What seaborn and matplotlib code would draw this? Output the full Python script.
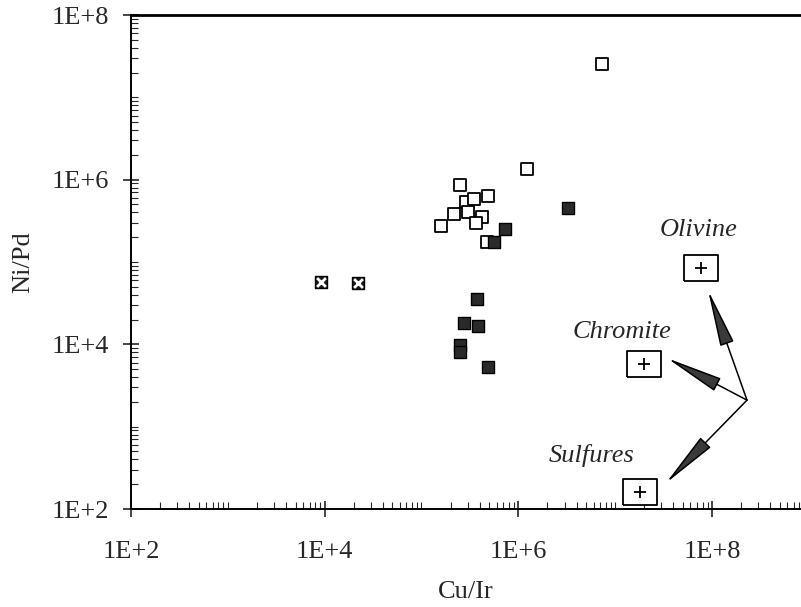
import numpy as np
import pandas as pd
import matplotlib
matplotlib.use("Agg")
import matplotlib.pyplot as plt
import seaborn as sns
from matplotlib.ticker import FixedLocator, LogLocator, FuncFormatter, NullFormatter

# open squares
open_cu_ir = [7.31e6, 1.23e6, 2.50e5, 2.88e5, 3.49e5, 4.86e5, 2.17e5, 3.02e5, 4.22e5, 3.66e5, 1.59e5, 4.75e5]
open_ni_pd = [2.54e7, 1.35e6, 8.6e5, 5.35e5, 5.8e5, 6.3e5, 3.8e5, 4.0e5, 3.5e5, 2.97e5, 2.73e5, 1.75e5]
# filled squares
filled_cu_ir = [3.26e6, 7.28e5, 5.61e5, 3.74e5, 2.75e5, 3.83e5, 2.50e5, 2.50e5, 4.86e5]
filled_ni_pd = [4.5e5, 2.5e5, 1.75e5, 3.54e4, 1.8e4, 1.66e4, 9.8e3, 8.0e3, 5.3e3]
# crossed squares
cross_cu_ir = [9.16e3, 2.21e4]
cross_ni_pd = [5.7e4, 5.5e4]

# reference minerals
minerals = ["Olivine", "Chromite", "Sulfures"]
mineral_cu_ir = [7.7e7, 1.99e7, 1.81e7]
mineral_ni_pd = [8.4e4, 5.7e3, 160]
label_cu_ir = [7.35e7, 1.18e7, 5.77e6]
label_ni_pd = [2.44e5, 1.41e4, 451]
tip_cu_ir = [9.1e7, 3.43e7, 3.34e7]
tip_ni_pd = [4.56e4, 6.8e3, 206]
arrow_origin = (2.30e8, 2.1e3)

tick_values = [1e2, 1e4, 1e6, 1e8]

sns.set_style("white")
plt.rcParams['font.family'] = ['Liberation Serif', 'DejaVu Serif']
FS = 19

fig = plt.figure(figsize=(8.01, 6.07), dpi=100)
ax = fig.add_axes([131 / 801, 1 - 509 / 607, 670 / 801, 494 / 607])

df_open = pd.DataFrame({'Cu/Ir': open_cu_ir, 'Ni/Pd': open_ni_pd})
df_filled = pd.DataFrame({'Cu/Ir': filled_cu_ir, 'Ni/Pd': filled_ni_pd})
df_cross = pd.DataFrame({'Cu/Ir': cross_cu_ir, 'Ni/Pd': cross_ni_pd})
df_min = pd.DataFrame({'Cu/Ir': mineral_cu_ir, 'Ni/Pd': mineral_ni_pd, 'name': minerals})

sns.scatterplot(data=df_open, x='Cu/Ir', y='Ni/Pd', marker='s', s=85, color='white',
                edgecolor='black', linewidth=1.3, ax=ax, zorder=3)
sns.scatterplot(data=df_filled, x='Cu/Ir', y='Ni/Pd', marker='s', s=80, color='#2a2a2a',
                edgecolor='black', linewidth=1.0, ax=ax, zorder=4)
sns.scatterplot(data=df_cross, x='Cu/Ir', y='Ni/Pd', marker='s', s=85, color='#1a1a1a',
                edgecolor='black', linewidth=1.0, ax=ax, zorder=4)
sns.scatterplot(data=df_cross, x='Cu/Ir', y='Ni/Pd', marker='x', s=40, color='white',
                linewidth=2.0, ax=ax, zorder=5)

# boxed "+" symbols for the reference minerals
box = [(-0.5, -0.39), (0.5, -0.39), (0.5, 0.39), (-0.5, 0.39), (-0.5, -0.39)]
sns.scatterplot(data=df_min, x='Cu/Ir', y='Ni/Pd', marker=box, s=620, color='white',
                edgecolor='black', linewidth=1.3, ax=ax, zorder=6)
sns.scatterplot(data=df_min, x='Cu/Ir', y='Ni/Pd', marker='+', s=75, color='black',
                linewidth=1.3, ax=ax, zorder=7)

ax.set_xscale('log')
ax.set_yscale('log')
ax.set_xlim(1e2, 10 ** (2 + 670 / 96.83))
ax.set_ylim(1e2, 1e8)

for name, lx, ly, tx, ty in zip(minerals, label_cu_ir, label_ni_pd, tip_cu_ir, tip_ni_pd):
    ax.text(lx, ly, name, ha='center', va='center', fontsize=FS, style='italic')
    ax.annotate('', xy=(tx, ty), xytext=arrow_origin,
                arrowprops=dict(arrowstyle='-|>,head_length=3.6,head_width=0.45',
                                mutation_scale=10, color='black', fc='#3a3a3a',
                                lw=1.1, shrinkA=0, shrinkB=0))

fmt = FuncFormatter(lambda v, p: f"1E+{int(round(np.log10(v)))}")
for axis in (ax.xaxis, ax.yaxis):
    axis.set_major_locator(FixedLocator(tick_values))
    axis.set_major_formatter(fmt)
    axis.set_minor_locator(LogLocator(base=10, subs=np.arange(1, 10), numticks=100))
    axis.set_minor_formatter(NullFormatter())

ax.tick_params(which='major', direction='inout', length=12, width=1.2, labelsize=FS,
               left=True, bottom=True, top=False, right=False)
ax.tick_params(axis='y', which='major', pad=10)
ax.tick_params(axis='x', which='major', pad=17)
ax.tick_params(which='minor', direction='in', length=5, width=0.8,
               left=True, bottom=True, top=False, right=False)

for side in ('left', 'bottom'):
    ax.spines[side].set_linewidth(1.4)
    ax.spines[side].set_color('black')
ax.spines['top'].set_linewidth(2.0)
ax.spines['top'].set_color('black')
ax.spines['right'].set_visible(False)

ax.set_xlabel('Cu/Ir', fontsize=FS, labelpad=13)
ax.set_ylabel('Ni/Pd', fontsize=FS, labelpad=12)
ax.grid(False)

fig.savefig('out.png', dpi=100)
